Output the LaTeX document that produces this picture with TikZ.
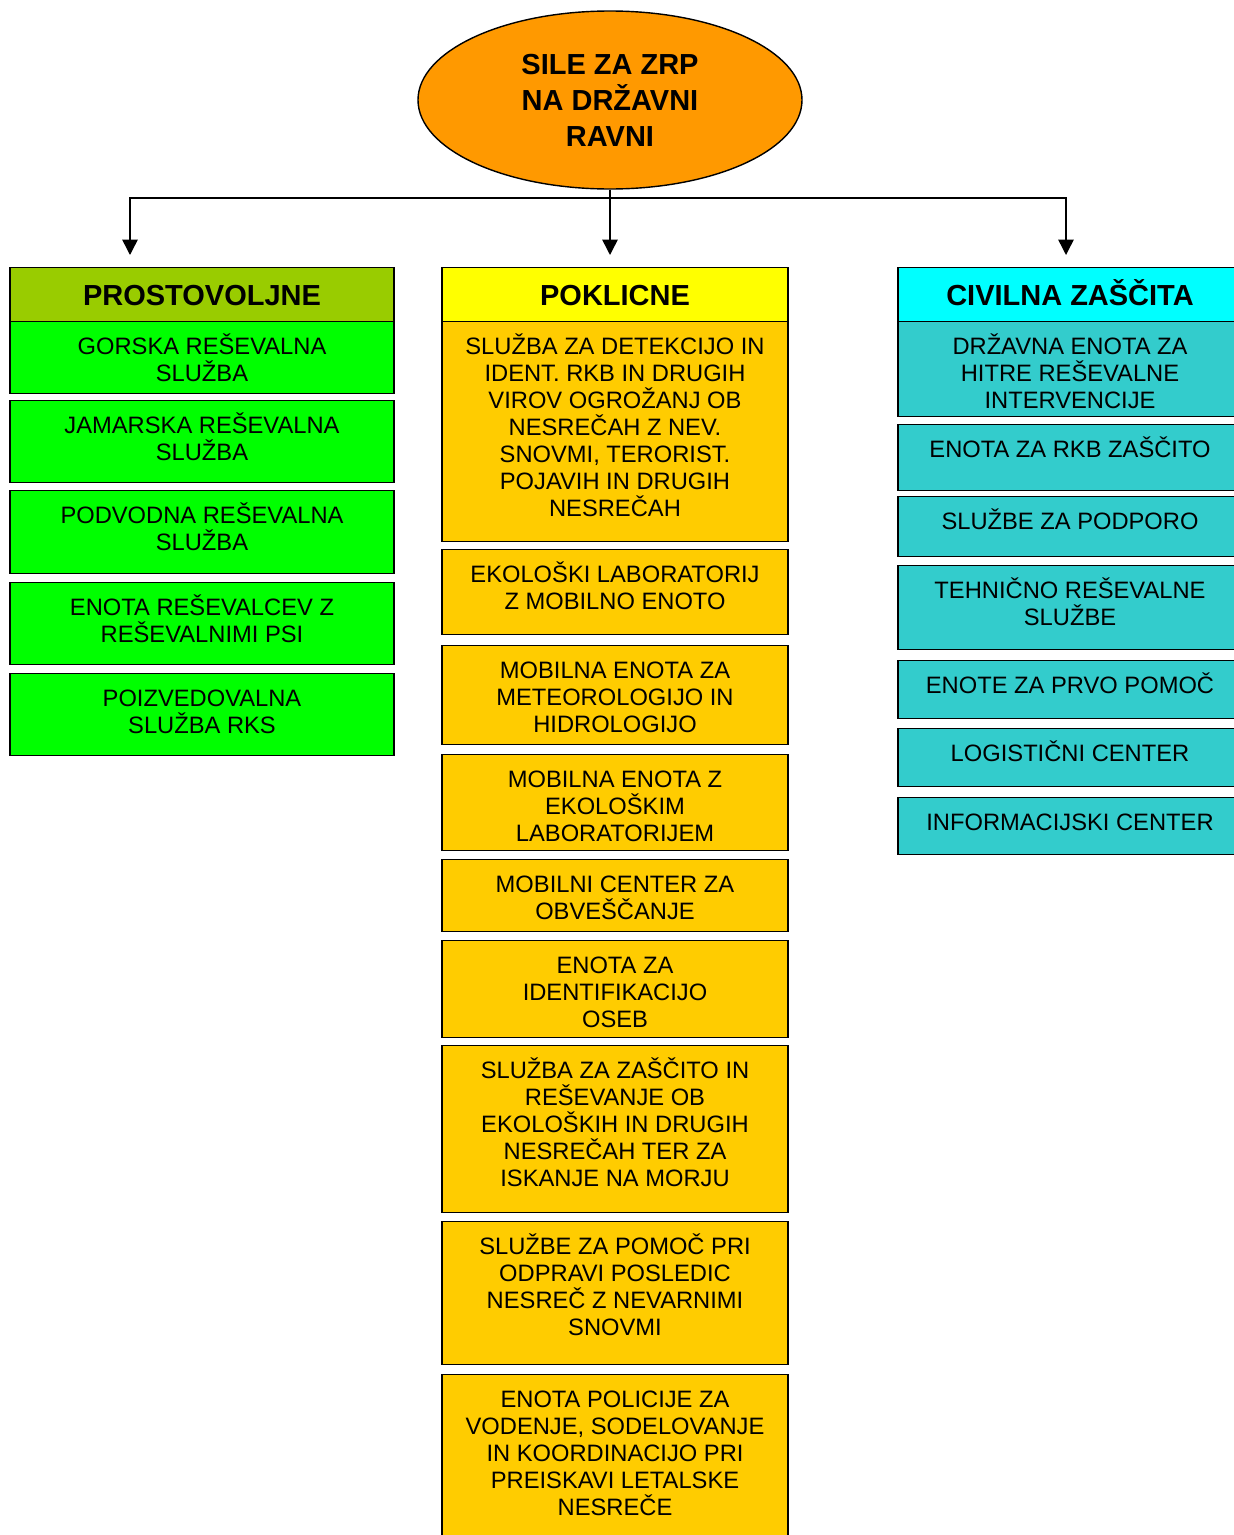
\documentclass[tikz,border=0pt]{standalone}
\usepackage{fontspec}
\setmainfont{Liberation Sans}
\usetikzlibrary{positioning,shapes.geometric,arrows.meta}

\newlength\pxl
\setlength\pxl{0.02cm}

\definecolor{rootorange}{HTML}{FF9900}
\definecolor{volhead}{HTML}{99CC00}
\definecolor{volbox}{HTML}{00FF00}
\definecolor{profhead}{HTML}{FFFF00}
\definecolor{profbox}{HTML}{FFCC00}
\definecolor{czhead}{HTML}{00FFFF}
\definecolor{czbox}{HTML}{33CCCC}

\begin{document}
\begin{tikzpicture}[
    x=0.02cm, y=-0.02cm,
    rootnode/.style={ellipse, draw, fill=rootorange, line width=0.8pt, minimum width=384\pxl, minimum height=178\pxl, inner sep=0pt, align=center, font=\fontsize{16.5}{20.5}\selectfont\bfseries},
    hdrbox/.style={rectangle, draw, line width=0.8pt, minimum height=54\pxl, anchor=north, text height=11.8pt, text depth=0pt, font=\fontsize{16.5}{20}\selectfont\bfseries},
    ubox/.style={rectangle, draw, line width=0.8pt, anchor=north},
    boxtext/.style={anchor=north, inner sep=0pt, align=center, font=\fontsize{13.5}{15.36}\selectfont},
    arrow/.style={-{Triangle[width=8.8pt,length=8.8pt]}, line width=0.85pt}
]
\useasboundingbox (0,0) rectangle (1234,1535);
\clip (0,0) rectangle (1234,1535);

% Top node
\node[rootnode] (root) at (610,100) {SILE ZA ZRP\\NA DRŽAVNI\\RAVNI};

% Column headers
\node[hdrbox, fill=volhead, minimum width=384\pxl] (prostovoljne) at (202,267) {PROSTOVOLJNE};
\node[hdrbox, fill=profhead, minimum width=346\pxl] (poklicne) at (615,267) {POKLICNE};
\node[hdrbox, fill=czhead, minimum width=344\pxl] (civilna) at (1070,267) {CIVILNA ZAŠČITA};

% Branches
\coordinate (bus) at (610,198);
\coordinate (tipL) at (130,255);
\coordinate (tipM) at (610,255);
\coordinate (tipR) at (1066,255);
\draw[arrow] (root.south) -- (tipM);
\draw[arrow] (bus) -| (tipL);
\draw[arrow] (bus) -| (tipR);

% Volunteer units
\foreach \n/\t/\b/\txt in {
    gorska/321/393/{GORSKA REŠEVALNA\\SLUŽBA},
    jamarska/400/482/{JAMARSKA REŠEVALNA\\SLUŽBA},
    podvodna/490/573/{PODVODNA REŠEVALNA\\SLUŽBA},
    psi/582/664/{ENOTA REŠEVALCEV Z\\REŠEVALNIMI PSI},
    rks/673/755/{POIZVEDOVALNA\\SLUŽBA RKS}} {
  \node[ubox, fill=volbox, minimum width=384\pxl, minimum height={(\b-\t)*\pxl}] (\n) at (202,\t) {};
  \node[boxtext] (\n-t) at ([yshift=-10\pxl]\n.north) {\rule{0pt}{13pt}\txt};
}

% Professional units
\foreach \n/\t/\b/\txt in {
    detekcija/321/541/{SLUŽBA ZA DETEKCIJO IN\\IDENT. RKB IN DRUGIH\\VIROV OGROŽANJ OB\\NESREČAH Z NEV.\\SNOVMI, TERORIST.\\POJAVIH IN DRUGIH\\NESREČAH},
    labor/549/634/{EKOLOŠKI LABORATORIJ\\Z MOBILNO ENOTO},
    meteo/645/744/{MOBILNA ENOTA ZA\\METEOROLOGIJO IN\\HIDROLOGIJO},
    ekolab/754/850/{MOBILNA ENOTA Z\\EKOLOŠKIM\\LABORATORIJEM},
    obvescanje/859/931/{MOBILNI CENTER ZA\\OBVEŠČANJE},
    identif/940/1037/{ENOTA ZA\\IDENTIFIKACIJO\\OSEB},
    morje/1045/1212/{SLUŽBA ZA ZAŠČITO IN\\REŠEVANJE OB\\EKOLOŠKIH IN DRUGIH\\NESREČAH TER ZA\\ISKANJE NA MORJU},
    posledice/1221/1364/{SLUŽBE ZA POMOČ PRI\\ODPRAVI POSLEDIC\\NESREČ Z NEVARNIMI\\SNOVMI},
    policija/1374/1560/{ENOTA POLICIJE ZA\\VODENJE, SODELOVANJE\\IN KOORDINACIJO PRI\\PREISKAVI LETALSKE\\NESREČE}} {
  \node[ubox, fill=profbox, minimum width=346\pxl, minimum height={(\b-\t)*\pxl}] (\n) at (615,\t) {};
  \node[boxtext] (\n-t) at ([yshift=-10\pxl]\n.north) {\rule{0pt}{13pt}\txt};
}

% Civil protection units
\foreach \n/\t/\b/\txt in {
    hitre/321/416/{DRŽAVNA ENOTA ZA\\HITRE REŠEVALNE\\INTERVENCIJE},
    rkb/424/490/{ENOTA ZA RKB ZAŠČITO},
    podpora/496/556/{SLUŽBE ZA PODPORO},
    tehnicne/565/649/{TEHNIČNO REŠEVALNE\\SLUŽBE},
    prvapomoc/660/718/{ENOTE ZA PRVO POMOČ},
    logistika/728/786/{LOGISTIČNI CENTER},
    info/797/854/{INFORMACIJSKI CENTER}} {
  \node[ubox, fill=czbox, minimum width=344\pxl, minimum height={(\b-\t)*\pxl}] (\n) at (1070,\t) {};
  \node[boxtext] (\n-t) at ([yshift=-10\pxl]\n.north) {\rule{0pt}{13pt}\txt};
}

\end{tikzpicture}
\end{document}
